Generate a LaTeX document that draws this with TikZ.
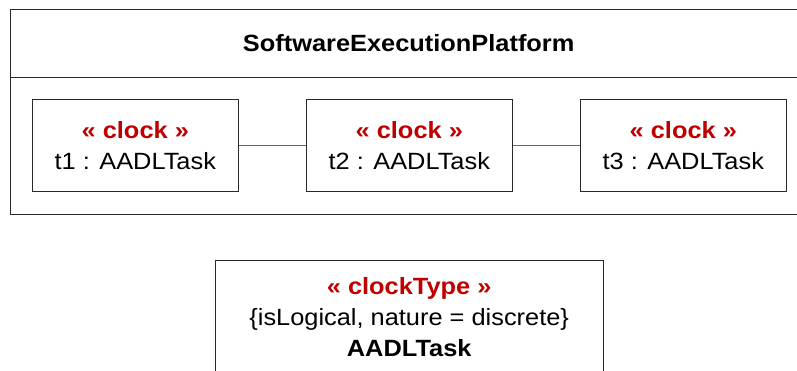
\documentclass[tikz,border=0pt]{standalone}
\usepackage{fontspec}
\setmainfont[FakeStretch=1.08]{Liberation Sans}
\definecolor{stereo}{RGB}{192,0,0}
\definecolor{linec}{RGB}{40,40,40}
\begin{document}
\begin{tikzpicture}[x=1pt,y=-1pt,
  box/.style={draw=linec, line width=1pt, inner sep=0pt},
  lbl/.style={align=center, font=\fontsize{23.5}{31}\selectfont, inner sep=0pt},
  conn/.style={draw=black!60, line width=1pt}]
\clip (0,0) rectangle (797,371);
\fill[white] (0,0) rectangle (797,371);
% outer frame
\node[box, anchor=north west, minimum width=798.5, minimum height=204.5] (frame) at (9.5,9.5) {};
\coordinate (divl) at (9.5,77.7);
\coordinate (divr) at (808,77.7);
\draw[draw=linec, line width=1pt] (divl) -- (divr);
\node[lbl, font=\fontsize{23.5}{31}\selectfont\bfseries] (title) at (408.7,43) {SoftwareExecutionPlatform};
% parts
\node[box, minimum width=206, minimum height=92] (t1) at (135.3,146) {};
\node[box, minimum width=206, minimum height=92] (t2) at (409.3,146) {};
\node[box, minimum width=206, minimum height=92] (t3) at (683.3,146) {};
\node[lbl] (t1l) at (t1.center) {\textcolor{stereo}{\bfseries « clock »}\\t1 : AADLTask};
\node[lbl] (t2l) at (t2.center) {\textcolor{stereo}{\bfseries « clock »}\\t2 : AADLTask};
\node[lbl] (t3l) at (t3.center) {\textcolor{stereo}{\bfseries « clock »}\\t3 : AADLTask};
\draw[conn] (t1.east) -- (t2.west);
\draw[conn] (t2.east) -- (t3.west);
% class
\node[box, anchor=north, minimum width=388, minimum height=150] (cls) at (409.2,260) {};
\node[lbl] (clsl) at (409.2,317) {\textcolor{stereo}{\bfseries « clockType »}\\\{isLogical, nature = discrete\}\\\bfseries AADLTask};
\end{tikzpicture}
\end{document}
